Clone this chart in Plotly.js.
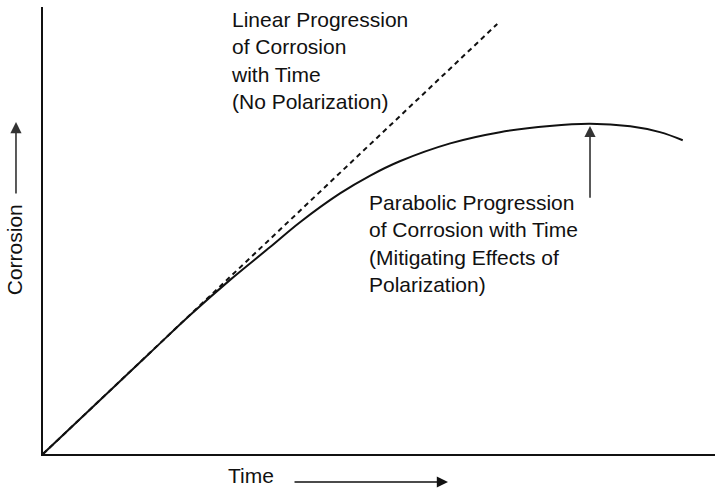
<!DOCTYPE html>
<html>
<head>
<meta charset="utf-8">
<script src="https://cdn.plot.ly/plotly-3.0.1.min.js"></script>
<style>html,body{margin:0;padding:0;background:#fff;}#chart{width:715px;height:495px;}</style>
</head>
<body>
<div id="chart"></div>
<script>
// Relative units (time 0-100, corrosion 0-100)
const parabolicTime = [0, 8.5, 15.9, 21.9, 27.8, 33.8, 38.2, 44.2, 48.7, 53.1, 60.6, 68.0, 75.4, 81.4, 87.4, 91.8, 95.2];
const parabolicCorrosion = [0, 12.1, 22.6, 31.1, 38.9, 46.3, 51.8, 58.3, 62.3, 65.5, 69.5, 72.0, 73.4, 73.9, 73.3, 72.0, 70.2];
const linearTime = [0, 67.6];
const linearCorrosion = [0, 96.2];
const peakTime = 81.4;
const peakCorrosion = 73.4;
const arrowTailCorrosion = 57.0;
const linearLabel = "Linear Progression<br>of Corrosion<br>with Time<br>(No Polarization)";
const parabolicLabel = "Parabolic Progression<br>of Corrosion with Time<br>(Mitigating Effects of<br>Polarization)";
const xLabel = "Time";
const yLabel = "Corrosion";

const font = {family: "Liberation Sans, Arial, Helvetica, sans-serif", size: 21, color: "#111"};

const traces = [
  {x: linearTime, y: linearCorrosion, mode: "lines", line: {color: "#111", width: 2, dash: "5px,4px"}, hoverinfo: "skip"},
  {x: parabolicTime, y: parabolicCorrosion, mode: "lines", line: {color: "#111", width: 2, shape: "spline", smoothing: 1}, hoverinfo: "skip"}
];

const axisCommon = {showgrid: false, zeroline: false, showticklabels: false, ticks: "", showline: true, linecolor: "#111", linewidth: 1.6, fixedrange: true};

const layout = {
  width: 715, height: 495,
  margin: {l: 43, r: 0, t: 7, b: 41},
  paper_bgcolor: "#fff", plot_bgcolor: "#fff",
  showlegend: false,
  font: font,
  xaxis: Object.assign({range: [0, 100]}, axisCommon),
  yaxis: Object.assign({range: [0, 100]}, axisCommon),
  annotations: [
    {xref: "paper", yref: "paper", x: 0.277, y: 1.002, xanchor: "left", yanchor: "top", align: "left", text: linearLabel, showarrow: false, font: font},
    {xref: "x", yref: "y", x: 48.2, y: 59.3, xanchor: "left", yanchor: "top", align: "left", text: parabolicLabel, showarrow: false, font: font},
    {xref: "x", yref: "y", x: peakTime, y: peakCorrosion, axref: "x", ayref: "y", ax: peakTime, ay: arrowTailCorrosion, text: "", showarrow: true, arrowhead: 2, arrowsize: 1.4, arrowwidth: 1.6, arrowcolor: "#333", standoff: 0, startstandoff: 0},
    {xref: "paper", yref: "paper", x: -0.043, y: 0.456, text: yLabel, textangle: -90, showarrow: false, font: font, xanchor: "center", yanchor: "middle"},
    {xref: "paper", yref: "paper", x: -0.0402, y: 0.7427, ax: 0, ay: 73, text: "", showarrow: true, arrowhead: 2, arrowsize: 1.4, arrowwidth: 1.6, arrowcolor: "#333", standoff: 0},
    {xref: "paper", yref: "paper", x: 0.3095, y: -0.047, text: xLabel, showarrow: false, font: font, xanchor: "center", yanchor: "middle"},
    {xref: "paper", yref: "paper", x: 0.6027, y: -0.0626, ax: -155, ay: 0, text: "", showarrow: true, arrowhead: 2, arrowsize: 1.4, arrowwidth: 1.6, arrowcolor: "#111", standoff: 0}
  ]
};

Plotly.newPlot("chart", traces, layout, {displayModeBar: false, staticPlot: true});
</script>
</body>
</html>
